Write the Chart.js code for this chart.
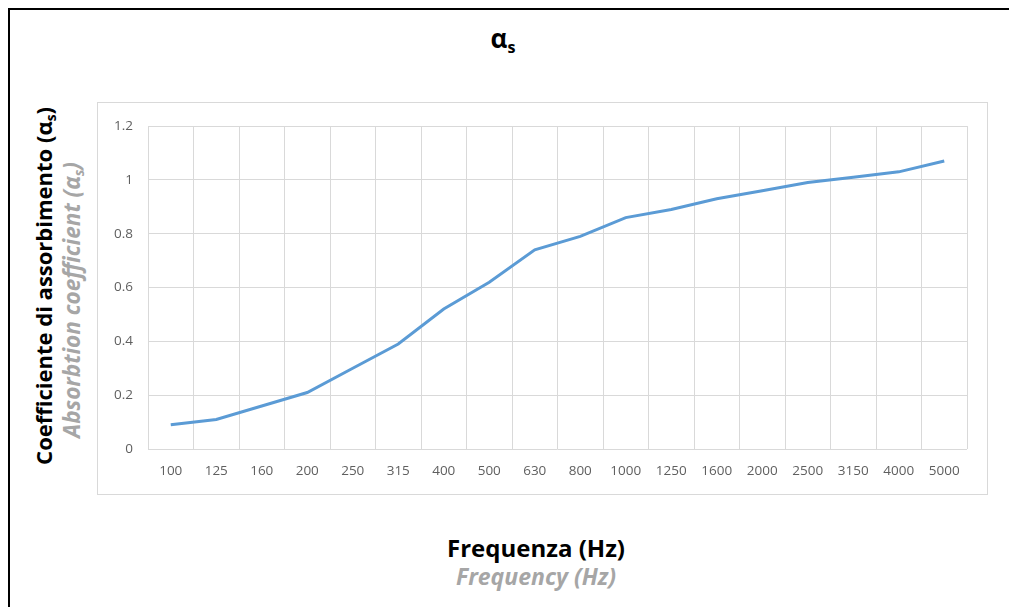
<!DOCTYPE html>
<html>
<head>
<meta charset="utf-8">
<script src="https://cdn.jsdelivr.net/npm/chart.js@4/dist/chart.umd.min.js"></script>
<style>
  html, body { margin: 0; padding: 0; background: #fff; }
  body { width: 1009px; height: 607px; position: relative; overflow: hidden; font-family: "Open Sans", sans-serif; }
  #frame { position: absolute; left: 8px; top: 8px; width: 1100px; height: 700px; border-left: 2px solid #000; border-top: 2px solid #000; }
  #box { position: absolute; left: 97px; top: 102px; width: 889px; height: 391px; border: 1px solid #d9d9d9; }
  #box canvas { display: block; }
  .t { position: absolute; white-space: nowrap; font-weight: 700; line-height: 1; }
  .t sub { font-size: 62%; vertical-align: -0.28em; line-height: 0; }
  #title { left: 503px; top: 38px; transform: translate(-50%, -50%); font-size: 26px; color: #000; }
  #xt1 { left: 536px; top: 548px; transform: translate(-50%, -50%); font-size: 24px; color: #000; }
  #xt2 { left: 536px; top: 576px; transform: translate(-50%, -50%); font-size: 23px; color: #a6a6a6; font-style: italic; }
  #yt1 { left: 43px; top: 286px; transform: translate(-50%, -50%) rotate(-90deg); font-size: 22px; color: #000; }
  #yt2 { left: 72px; top: 300px; transform: translate(-50%, -50%) rotate(-90deg); font-size: 22.5px; color: #a6a6a6; font-style: italic; }
</style>
</head>
<body>
<div id="frame"></div>
<div id="title" class="t">α<sub>s</sub></div>
<div id="yt1" class="t">Coefficiente di assorbimento (α<sub>s</sub>)</div>
<div id="yt2" class="t">Absorbtion coefficient (α<sub>s</sub>)</div>
<div id="xt1" class="t">Frequenza (Hz)</div>
<div id="xt2" class="t">Frequency (Hz)</div>
<div id="box"><canvas id="c" width="889" height="391"></canvas></div>
<script>
const frequencies = ["100","125","160","200","250","315","400","500","630","800","1000","1250","1600","2000","2500","3150","4000","5000"];
const absorption = [0.09,0.11,0.16,0.21,0.30,0.39,0.52,0.62,0.74,0.79,0.86,0.89,0.93,0.96,0.99,1.01,1.03,1.07];
const yTicks = [0,0.2,0.4,0.6,0.8,1,1.2];

new Chart(document.getElementById('c'), {
  type: 'line',
  data: {
    labels: frequencies,
    datasets: [{
      data: absorption,
      borderColor: '#5B9BD5',
      borderWidth: 3,
      pointRadius: 0,
      tension: 0,
      fill: false
    }]
  },
  options: {
    responsive: false,
    animation: false,
    devicePixelRatio: 1,
    layout: { padding: { top: 21, right: 20, bottom: 0, left: 0 } },
    plugins: { legend: { display: false }, tooltip: { enabled: false } },
    scales: {
      x: {
        offset: true,
        grid: { offset: true, color: '#d9d9d9', lineWidth: 1, drawTicks: false },
        border: { display: false },
        ticks: { color: '#5f5f5f', font: { family: 'Open Sans', size: 13.5 }, padding: 14, maxRotation: 0, autoSkip: false },
        afterFit: s => { s.height = 45; }
      },
      y: {
        min: 0, max: 1.2,
        afterBuildTicks: s => { s.ticks = yTicks.map(v => ({ value: v })); },
        grid: { color: '#d9d9d9', lineWidth: 1, drawTicks: false },
        border: { display: false },
        ticks: { color: '#5f5f5f', font: { family: 'Open Sans', size: 13.5 }, padding: 15,
                 callback: v => String(v) },
        afterFit: s => { s.width = 50; }
      }
    }
  }
});
</script>
</body>
</html>
